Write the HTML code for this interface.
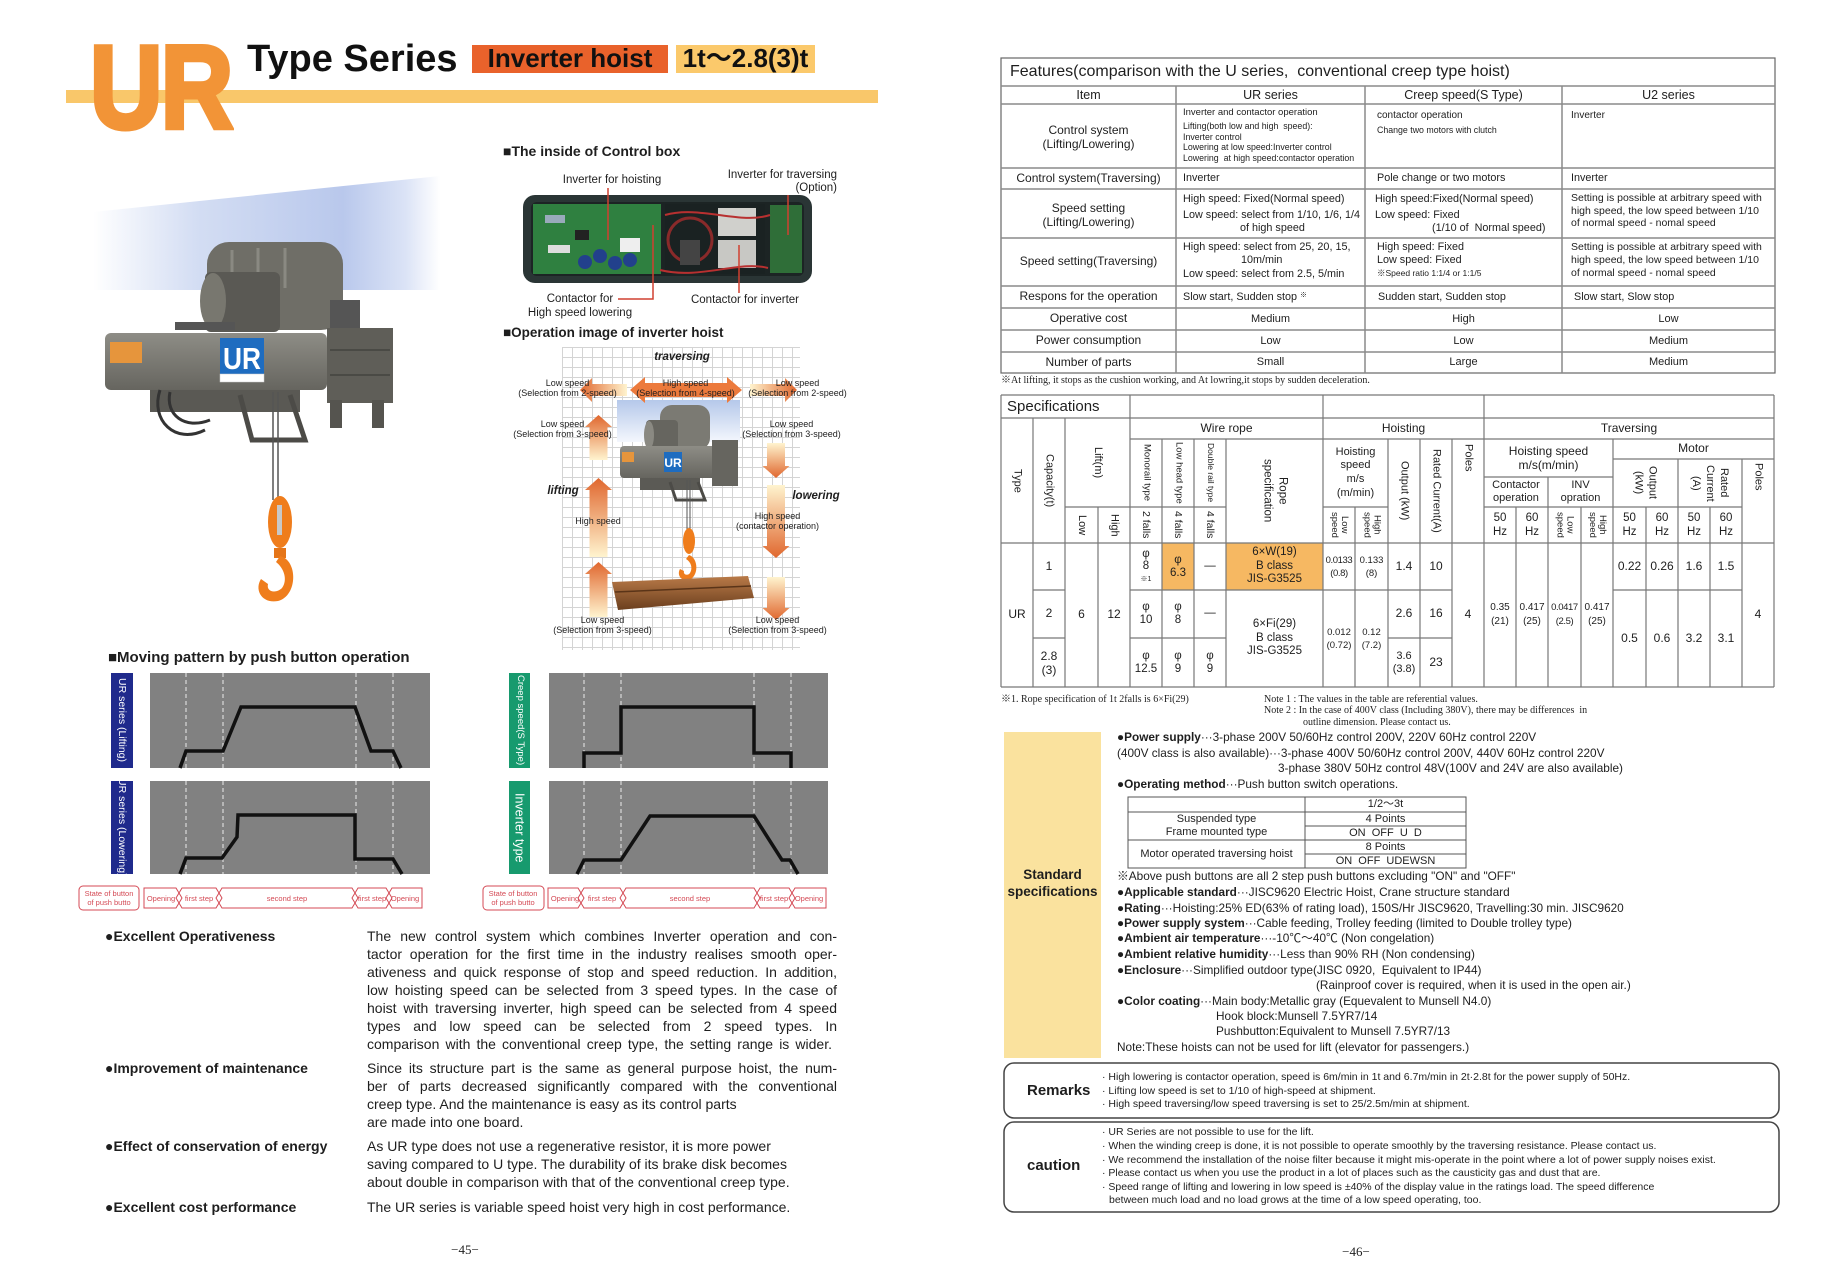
<!DOCTYPE html>
<html><head><meta charset="utf-8">
<style>
*{margin:0;padding:0;box-sizing:border-box}
html,body{width:1831px;height:1280px;overflow:hidden;background:#fff}
body{position:relative;font-family:"Liberation Sans","Noto Sans CJK JP",sans-serif;color:#1e1e1e}
.a{position:absolute;white-space:nowrap;line-height:1}
.c{position:absolute;display:flex;align-items:center;justify-content:center;text-align:center;line-height:1.15;white-space:nowrap}
.v{writing-mode:vertical-rl}
.j{position:absolute;text-align:justify;text-align-last:justify;line-height:1;font-size:14px;width:470px;left:367px}
.l{position:absolute;line-height:1;font-size:14px;left:367px;white-space:nowrap}
.s{font-family:"Liberation Serif","Noto Serif CJK SC",serif}
.h{position:absolute;white-space:nowrap;line-height:1;font-weight:bold;font-size:14px;left:105px}
.sp{font-size:11.8px}
.r{font-size:10.5px}
</style></head><body>
<svg width="1831" height="1280" style="position:absolute;left:0;top:0">
<defs>
<linearGradient id="beam" x1="0" y1="0" x2="1" y2="0"><stop offset="0" stop-color="#fff"/><stop offset="0.3" stop-color="#d3ddf3"/><stop offset="0.72" stop-color="#b9c8ec"/><stop offset="0.9" stop-color="#dbe3f6"/><stop offset="1" stop-color="#fff"/></linearGradient>
<linearGradient id="metal" x1="0" y1="0" x2="0" y2="1"><stop offset="0" stop-color="#8e8d86"/><stop offset="1" stop-color="#66655f"/></linearGradient>
<linearGradient id="up" x1="0" y1="0" x2="0" y2="1"><stop offset="0" stop-color="#e0672e"/><stop offset="1" stop-color="#fff4cf"/></linearGradient>
<linearGradient id="dn" x1="0" y1="0" x2="0" y2="1"><stop offset="0" stop-color="#fff4cf"/><stop offset="1" stop-color="#e0672e"/></linearGradient>
<linearGradient id="lf" x1="0" y1="0" x2="1" y2="0"><stop offset="0" stop-color="#e0672e"/><stop offset="1" stop-color="#fff4cf"/></linearGradient>
<linearGradient id="rt" x1="0" y1="0" x2="1" y2="0"><stop offset="0" stop-color="#fff4cf"/><stop offset="1" stop-color="#e0672e"/></linearGradient>
<linearGradient id="sky" x1="0" y1="0" x2="0" y2="1"><stop offset="0" stop-color="#b5c8ea"/><stop offset="1" stop-color="#f4f7fd"/></linearGradient>
<linearGradient id="brown" x1="0" y1="0" x2="0" y2="1"><stop offset="0" stop-color="#b97a48"/><stop offset="1" stop-color="#6b3f1e"/></linearGradient>
<pattern id="grid" x="562" y="347" width="10" height="10" patternUnits="userSpaceOnUse"><path d="M0 0.5H10M0.5 0V10" stroke="#d4d4d4" stroke-width="1" fill="none"/></pattern>
</defs>

<rect x="66" y="90" width="812" height="13" fill="#F9C76A"/>

<polygon points="93,212 440,176 440,290 93,290" fill="url(#beam)"/>
<rect x="207" y="242" width="136" height="88" rx="22" fill="#6f6e67"/>
<path d="M232 250v35M258 248v40M285 248v40" stroke="#8a8982" stroke-width="3"/>
<rect x="205" y="272" width="75" height="60" rx="6" fill="#5a5954"/>
<ellipse cx="213" cy="301" rx="13" ry="28" fill="#78776f"/>
<rect x="330" y="300" width="30" height="30" fill="#555"/>
<rect x="175" y="322" width="60" height="8" fill="#555"/>
<rect x="105" y="333" width="222" height="57" rx="6" fill="url(#metal)"/>
<rect x="327" y="328" width="66" height="75" fill="#5f5e58"/>
<path d="M330 350H390M330 375H390" stroke="#4a4a45" stroke-width="2"/>
<rect x="330" y="400" width="12" height="28" fill="#55544f"/><rect x="372" y="400" width="12" height="28" fill="#55544f"/>
<rect x="150" y="390" width="150" height="22" fill="#5a5954"/>
<path d="M240 395 L252 440 L305 440 L290 395" stroke="#4c4b47" stroke-width="5" fill="none"/>
<path d="M160 390 C150 420,175 445,205 430 M170 392 C165 415,185 430,210 420" stroke="#333" stroke-width="3" fill="none"/>
<rect x="110" y="342" width="32" height="21" fill="#e6953c"/>
<rect x="220" y="338" width="44" height="36" fill="#1e6cc0"/>
<text x="242" y="369" font-size="31" font-weight="bold" fill="#fff" text-anchor="middle" font-family="Liberation Sans" textLength="38" lengthAdjust="spacingAndGlyphs">UR</text>
<rect x="220" y="374" width="44" height="8" fill="#fff" stroke="#ccc" stroke-width=".5"/>
<path d="M273 392V500M278 392V500" stroke="#555" stroke-width="1.5"/>
<ellipse cx="280" cy="522" rx="12" ry="26" fill="#ef7d1c"/>
<rect x="277" y="505" width="5" height="30" fill="#c8c8c8"/>
<rect x="274" y="548" width="12" height="10" fill="#e57518"/>
<path d="M280 556 C298 560 298 596 278 601 C262 604 254 590 261 579 L268 584 C266 592 276 594 282 588 C288 580 284 568 276 562 Z" fill="#ef7d1c"/>

<rect x="523" y="195" width="289" height="88" rx="12" fill="#2a3535"/>
<rect x="531" y="202" width="273" height="74" rx="6" fill="#1c2424"/>
<rect x="533" y="204" width="128" height="70" fill="#2f8040"/>
<rect x="545" y="215" width="20" height="8" fill="#9ab"/><rect x="575" y="230" width="14" height="10" fill="#222"/><rect x="548" y="245" width="22" height="8" fill="#ddd"/>
<rect x="620" y="238" width="20" height="14" fill="#eee"/>
<circle cx="585" cy="262" r="7" fill="#22408c"/><circle cx="600" cy="256" r="7" fill="#22408c"/><circle cx="615" cy="263" r="7" fill="#22408c"/><circle cx="630" cy="260" r="7" fill="#22408c"/>
<rect x="665" y="204" width="100" height="70" fill="#1a2222"/>
<circle cx="690" cy="240" r="22" fill="none" stroke="#8a2a2a" stroke-width="3"/>
<rect x="680" y="240" width="20" height="25" fill="#444"/>
<rect x="718" y="208" width="38" height="28" fill="#d0d0cc"/><rect x="718" y="240" width="38" height="28" fill="#c8c8c4"/>
<rect x="770" y="205" width="32" height="68" fill="#2f6e38"/>
<path d="M665 215 C700 205,740 225,770 215 M660 270 C700 280,740 260,768 268" stroke="#b83030" stroke-width="2" fill="none"/>
<path d="M608 188V240 M788 195V235 M618 299H653V225 M739 293V245" stroke="#d04030" stroke-width="1.5" fill="none"/>

<rect x="562" y="347" width="238" height="303" fill="url(#grid)"/>
<rect x="617" y="400" width="123" height="42" fill="url(#sky)"/>
<polygon points="630,390 645,377 645,383 727,383 727,377 742,390 727,403 727,397 645,397 645,403" fill="#ec7a3c"/>
<polygon points="580,390 592,378 592,384 627,384 627,396 592,396 592,402" fill="url(#lf)"/>
<polygon points="797,390 785,378 785,384 750,384 750,396 785,396 785,402" fill="url(#rt)"/>
<polygon points="598.5,415 612,427 607.5,427 607.5,460 589.5,460 589.5,427 585,427" fill="url(#up)"/>
<polygon points="598.5,478 612,490 607.5,490 607.5,557 589.5,557 589.5,490 585,490" fill="url(#up)"/>
<polygon points="598.5,562 612,574 607.5,574 607.5,617 589.5,617 589.5,574 585,574" fill="url(#up)"/>
<polygon points="776,478 789.5,466 785,466 785,443 767,443 767,466 762.5,466" fill="url(#dn)"/>
<polygon points="776,558 789.5,546 785,546 785,485 767,485 767,546 762.5,546" fill="url(#dn)"/>
<polygon points="776,620 789.5,608 785,608 785,577 767,577 767,608 762.5,608" fill="url(#dn)"/>
<rect x="660" y="405" width="50" height="45" rx="12" fill="#7b7a73"/>
<rect x="646" y="420" width="32" height="30" rx="4" fill="#66655f"/>
<ellipse cx="649" cy="435" rx="5" ry="14" fill="#8a8982"/>
<rect x="620" y="446" width="110" height="32" rx="4" fill="url(#metal)"/>
<rect x="712" y="440" width="26" height="46" fill="#66655f"/>
<rect x="622" y="452" width="12" height="10" fill="#e6953c"/>
<rect x="664" y="452" width="18" height="20" fill="#1e6cc0"/>
<text x="673" y="467" font-size="12" font-weight="bold" fill="#fff" text-anchor="middle" font-family="Liberation Sans">UR</text>
<rect x="640" y="478" width="60" height="12" fill="#5b5a55"/>
<path d="M670 482 L676 500 L705 500 L698 482" stroke="#4c4b47" stroke-width="3" fill="none"/>
<path d="M687 480V530M690 480V530" stroke="#555" stroke-width="1"/>
<ellipse cx="689" cy="541" rx="6" ry="13" fill="#ef7d1c"/>
<path d="M689 555 C699 558 699 578 688 580 C680 581 677 574 680 569 L684 571 C683 575 688 576 690 573 C693 568 691 562 686 559Z" fill="#ef7d1c"/>
<polygon points="612,582 748,576 754,598 618,610" fill="url(#brown)"/>
<path d="M615 592 L751 586" stroke="#5a3418" stroke-width="1.5"/>

<rect x="150" y="673" width="280" height="95" fill="#818181"/>
<rect x="150" y="781" width="280" height="93" fill="#818181"/>
<rect x="549" y="673" width="279" height="95" fill="#818181"/>
<rect x="549" y="781" width="279" height="93" fill="#818181"/>
<path d="M186 673V768M223 673V768M356 673V768M393 673V768M186 781V874M223 781V874M356 781V874M393 781V874M584 673V768M621 673V768M754 673V768M791 673V768M584 781V874M621 781V874M754 781V874M791 781V874" stroke="#ececec" stroke-width="1" stroke-dasharray="4 3"/>
<g fill="none" stroke="#111" stroke-width="3.5">
<polyline points="180,768 186,751 223,751 241,707 355,707 371,751 393,751 401,768"/>
<polyline points="180,874 186,858 222,858 237,837 238,815 355,815 355,859 393,859 402,874"/>
<polyline points="584,768 584,753 621,753 621,707 754,707 754,753 791,753 791,768"/>
<polyline points="577,874 584,860 621,860 650,816 754,816 782,860 790,860 798,874"/>
</g>
<g fill="none" stroke="#d44a55" stroke-width="1">
<rect x="79" y="886" width="60" height="24" rx="4"/>
<polygon points="144,888 176,888 182,898 176,908 144,908"/>
<polygon points="176,898 182,888 216,888 222,898 216,908 182,908"/>
<polygon points="216,898 222,888 352,888 358,898 352,908 222,908"/>
<polygon points="352,898 358,888 386,888 392,898 386,908 358,908"/>
<polygon points="386,898 392,888 422,888 422,908 392,908"/>
<rect x="483" y="886" width="61" height="24" rx="4"/>
<polygon points="548,888 578,888 584,898 578,908 548,908"/>
<polygon points="578,898 584,888 620,888 626,898 620,908 584,908"/>
<polygon points="620,898 626,888 754,888 760,898 754,908 626,908"/>
<polygon points="754,898 760,888 789,888 795,898 789,908 760,908"/>
<polygon points="789,898 795,888 826,888 826,908 795,908"/>
</g>
<g fill="#d44a55" font-family="Liberation Sans" font-size="7.5" text-anchor="middle">
<text x="109" y="896">State of button</text><text x="109" y="905">of push butto</text>
<text x="161" y="901">Opening</text><text x="199" y="901">first step</text><text x="287" y="901">second step</text><text x="372" y="901">first step</text><text x="405" y="901">Opening</text>
<text x="513" y="896">State of button</text><text x="513" y="905">of push butto</text>
<text x="565" y="901">Opening</text><text x="602" y="901">first step</text><text x="690" y="901">second step</text><text x="774" y="901">first step</text><text x="809" y="901">Opening</text>
</g>

<rect x="1001" y="58" width="774" height="315" fill="none" stroke="#666" stroke-width="1.2"/>
<path d="M1001 86H1775M1001 104H1775M1001 168H1775M1001 189H1775M1001 238H1775M1001 286H1775M1001 308H1775M1001 330H1775M1001 352H1775M1176 86V373M1365 86V373M1562 86V373" stroke="#8a8a8a" stroke-width="1.5" fill="none"/>

<rect x="1162" y="543" width="32" height="47" fill="#F6B862"/>
<rect x="1226" y="543" width="97" height="47" fill="#F6B862"/>
<path d="M1001 395H1774M1001 418H1774M1130 439H1774M1613 459H1774M1484 477H1613M1065 507H1226M1323 507H1388M1484 507H1742M1001 543H1774M1033 590H1065M1130 590H1452M1613 590H1742M1033 638H1065M1130 638H1226M1388 638H1452M1001 687H1774M1001 395V687M1774 395V687M1130 395V687M1323 395V687M1484 395V687M1033 418V687M1065 418V687M1098 507V687M1162 439V687M1194 439V687M1226 439V687M1355 507V687M1388 439V687M1420 439V687M1452 439V687M1516 507V687M1548 477V687M1581 507V687M1613 439V687M1646 507V687M1678 459V687M1710 507V687M1742 459V687" stroke="#777" stroke-width="1.2" fill="none"/>

<rect x="1004" y="732" width="97" height="326" fill="#FAE29E"/>
<rect x="1128" y="797" width="338" height="71" fill="none" stroke="#555" stroke-width="1"/>
<path d="M1305 797V868M1128 812H1466M1305 826H1466M1128 840H1466M1305 854H1466" stroke="#555" stroke-width="1" fill="none"/>

<rect x="1004" y="1063" width="775" height="55" rx="10" fill="none" stroke="#444" stroke-width="1.5"/>
<rect x="1004" y="1122" width="775" height="90" rx="10" fill="none" stroke="#444" stroke-width="1.5"/>
</svg>

<div class="a" style="left:90px;top:29px;font-size:118px;font-weight:bold;color:#F29437;-webkit-text-stroke:5px #F29437;transform:scaleX(0.85);transform-origin:0 0;letter-spacing:-2px">UR</div>
<div class="a" style="left:247px;top:40px;font-size:38px;font-weight:bold;color:#111">Type Series</div>
<div class="c" style="left:472px;top:45px;width:196px;height:28px;background:#E9622B;font-size:26px;font-weight:bold;color:#111">Inverter hoist</div>
<div class="c" style="left:676px;top:45px;width:139px;height:28px;background:#FBC96B;font-size:26px;font-weight:bold;color:#111">1t～2.8(3)t</div>

<div class="a" style="left:503px;top:144px;font-size:14px;font-weight:bold">■The inside of Control box</div>
<div class="c" style="left:552px;top:175px;width:120px;height:12px;font-size:11.5px">Inverter for hoisting</div>
<div class="a" style="left:717px;top:169px;width:120px;font-size:11.5px;text-align:right;line-height:13px">Inverter for traversing<br>(Option)</div>
<div class="c" style="left:520px;top:292px;width:120px;height:28px;font-size:11.5px;line-height:14px">Contactor for<br>High speed lowering</div>
<div class="c" style="left:685px;top:295px;width:120px;height:12px;font-size:11.5px">Contactor for inverter</div>
<div class="a" style="left:503px;top:326px;font-size:13.5px;font-weight:bold">■Operation image of inverter hoist</div>

<div class="c" style="left:655px;top:352px;width:54px;height:12px;font-size:11.5px;font-weight:bold;font-style:italic">traversing</div>
<div class="c" style="left:510px;top:377px;width:115px;height:21px;font-size:9px;line-height:10px">Low speed<br>(Selection from 2-speed)</div>
<div class="c" style="left:628px;top:377px;width:115px;height:21px;font-size:9px;line-height:10px">High speed<br>(Selection from 4-speed)</div>
<div class="c" style="left:740px;top:377px;width:115px;height:21px;font-size:9px;line-height:10px">Low speed<br>(Selection from 2-speed)</div>
<div class="c" style="left:505px;top:418px;width:115px;height:21px;font-size:9px;line-height:10px">Low speed<br>(Selection from 3-speed)</div>
<div class="c" style="left:734px;top:418px;width:115px;height:21px;font-size:9px;line-height:10px">Low speed<br>(Selection from 3-speed)</div>
<div class="c" style="left:540px;top:486px;width:46px;height:12px;font-size:11.5px;font-weight:bold;font-style:italic">lifting</div>
<div class="c" style="left:790px;top:491px;width:52px;height:12px;font-size:11.5px;font-weight:bold;font-style:italic">lowering</div>
<div class="c" style="left:570px;top:516px;width:56px;height:10px;font-size:9px">High speed</div>
<div class="c" style="left:720px;top:510px;width:115px;height:21px;font-size:9px;line-height:10px">High speed<br>(contactor operation)</div>
<div class="c" style="left:545px;top:614px;width:115px;height:21px;font-size:9px;line-height:10px">Low speed<br>(Selection from 3-speed)</div>
<div class="c" style="left:720px;top:614px;width:115px;height:21px;font-size:9px;line-height:10px">Low speed<br>(Selection from 3-speed)</div>

<div class="a" style="left:108px;top:650px;font-size:15px;font-weight:bold">■Moving pattern by push button operation</div>
<div class="c" style="left:111px;top:673px;width:22px;height:95px;background:#1f2a8c;color:#fff;font-size:10.5px"><span class="v">UR series (Lifting)</span></div>
<div class="c" style="left:111px;top:781px;width:22px;height:93px;background:#1f2a8c;color:#fff;font-size:10.5px"><span class="v">UR series (Lowering)</span></div>
<div class="c" style="left:509px;top:673px;width:21px;height:95px;background:#179a6e;color:#fff;font-size:9.5px"><span class="v">Creep speed(S Type)</span></div>
<div class="c" style="left:509px;top:781px;width:21px;height:93px;background:#179a6e;color:#fff;font-size:12.5px"><span class="v">Inverter type</span></div>

<div class="h" style="top:929px">●Excellent Operativeness</div>
<div class="j" style="top:929px">The new control system which combines Inverter operation and con-</div>
<div class="j" style="top:947px">tactor operation for the first time in the industry realises smooth oper-</div>
<div class="j" style="top:965px">ativeness and quick response of stop and speed reduction. In addition,</div>
<div class="j" style="top:983px">low hoisting speed can be selected from 3 speed types. In the case of</div>
<div class="j" style="top:1001px">hoist with traversing inverter, high speed can be selected from 4 speed</div>
<div class="j" style="top:1019px">types and low speed can be selected from 2 speed types. In</div>
<div class="j" style="top:1037px;width:465px">comparison with the conventional creep type, the setting range is wider.</div>
<div class="h" style="top:1061px">●Improvement of maintenance</div>
<div class="j" style="top:1061px">Since its structure part is the same as general purpose hoist, the num-</div>
<div class="j" style="top:1079px">ber of parts decreased significantly compared with the conventional</div>
<div class="l" style="top:1097px">creep type. And the maintenance is easy as its control parts</div>
<div class="l" style="top:1115px">are made into one board.</div>
<div class="h" style="top:1139px">●Effect of conservation of energy</div>
<div class="l" style="top:1139px">As UR type does not use a regenerative resistor, it is more power</div>
<div class="l" style="top:1157px">saving compared to U type. The durability of its brake disk becomes</div>
<div class="l" style="top:1175px">about double in comparison with that of the conventional creep type.</div>
<div class="h" style="top:1200px">●Excellent cost performance</div>
<div class="l" style="top:1200px">The UR series is variable speed hoist very high in cost performance.</div>
<div class="c s" style="left:415px;top:1243px;width:100px;height:14px;font-size:13px">−45−</div>

<div class="a" style="left:1010px;top:64px;font-size:16px">Features(comparison with the U series,&nbsp; conventional creep type hoist)</div>
<div class="c" style="left:1001px;top:86px;width:175px;height:18px;font-size:12.5px">Item</div>
<div class="c" style="left:1176px;top:86px;width:189px;height:18px;font-size:12.5px">UR series</div>
<div class="c" style="left:1365px;top:86px;width:197px;height:18px;font-size:12.5px">Creep speed(S Type)</div>
<div class="c" style="left:1562px;top:86px;width:213px;height:18px;font-size:12.5px">U2 series</div>
<div class="c" style="left:1001px;top:104px;width:175px;height:66px;font-size:12px;line-height:14px">Control system<br>(Lifting/Lowering)</div>
<div class="c" style="left:1001px;top:168px;width:175px;height:21px;font-size:12px">Control system(Traversing)</div>
<div class="c" style="left:1001px;top:189px;width:175px;height:52px;font-size:12px;line-height:14px">Speed setting<br>(Lifting/Lowering)</div>
<div class="c" style="left:1001px;top:238px;width:175px;height:48px;font-size:12px">Speed setting(Traversing)</div>
<div class="c" style="left:1001px;top:286px;width:175px;height:22px;font-size:12px">Respons for the operation</div>
<div class="c" style="left:1001px;top:308px;width:175px;height:22px;font-size:12px">Operative cost</div>
<div class="c" style="left:1001px;top:330px;width:175px;height:22px;font-size:12px">Power consumption</div>
<div class="c" style="left:1001px;top:352px;width:175px;height:21px;font-size:12px">Number of parts</div>

<div class="a" style="left:1183px;top:108px;font-size:9.5px">Inverter and contactor operation</div>
<div class="a" style="left:1183px;top:121.6px;font-size:8.8px">Lifting(both low and high&nbsp; speed):</div>
<div class="a" style="left:1183px;top:132.6px;font-size:8.8px">Inverter control</div>
<div class="a" style="left:1183px;top:142.6px;font-size:8.8px">Lowering at low speed:Inverter control</div>
<div class="a" style="left:1183px;top:153.6px;font-size:8.8px">Lowering&nbsp; at high speed:contactor operation</div>
<div class="a" style="left:1183px;top:172.6px;font-size:10.8px">Inverter</div>
<div class="a" style="left:1183px;top:193.6px;font-size:10.8px">High speed: Fixed(Normal speed)</div>
<div class="a" style="left:1183px;top:209.6px;font-size:10.8px">Low speed: select from 1/10, 1/6, 1/4</div>
<div class="a" style="left:1240px;top:222.6px;font-size:10.8px">of high speed</div>
<div class="a" style="left:1183px;top:241.6px;font-size:10.8px">High speed: select from 25, 20, 15,</div>
<div class="a" style="left:1241px;top:254.6px;font-size:10.8px">10m/min</div>
<div class="a" style="left:1183px;top:268.6px;font-size:10.8px">Low speed: select from 2.5, 5/min</div>
<div class="a" style="left:1183px;top:291.6px;font-size:10.8px">Slow start, Sudden stop <span style="font-size:7px;vertical-align:top">※</span></div>
<div class="c" style="left:1176px;top:308px;width:189px;height:22px;font-size:11px">Medium</div>
<div class="c" style="left:1176px;top:330px;width:189px;height:22px;font-size:11px">Low</div>
<div class="c" style="left:1176px;top:352px;width:189px;height:21px;font-size:11px">Small</div>

<div class="a" style="left:1377px;top:111px;font-size:10px">contactor operation</div>
<div class="a" style="left:1377px;top:125.6px;font-size:8.8px">Change two motors with clutch</div>
<div class="a" style="left:1377px;top:172.6px;font-size:10.8px">Pole change or two motors</div>
<div class="a" style="left:1375px;top:193.6px;font-size:10.8px">High speed:Fixed(Normal speed)</div>
<div class="a" style="left:1375px;top:209.6px;font-size:10.8px">Low speed: Fixed</div>
<div class="a" style="left:1432px;top:222.6px;font-size:10.8px">(1/10 of&nbsp; Normal speed)</div>
<div class="a" style="left:1377px;top:241.6px;font-size:10.8px">High speed: Fixed</div>
<div class="a" style="left:1377px;top:254.6px;font-size:10.8px">Low speed: Fixed</div>
<div class="a" style="left:1377px;top:268.8px;font-size:8.5px">※Speed ratio 1:1/4 or 1:1/5</div>
<div class="a" style="left:1378px;top:291.6px;font-size:10.8px">Sudden start, Sudden stop</div>
<div class="c" style="left:1365px;top:308px;width:197px;height:22px;font-size:11px">High</div>
<div class="c" style="left:1365px;top:330px;width:197px;height:22px;font-size:11px">Low</div>
<div class="c" style="left:1365px;top:352px;width:197px;height:21px;font-size:11px">Large</div>

<div class="a" style="left:1571px;top:111px;font-size:10px">Inverter</div>
<div class="a" style="left:1571px;top:172.6px;font-size:10.8px">Inverter</div>
<div class="a" style="left:1571px;top:192.8px;font-size:10.5px">Setting is possible at arbitrary speed with</div>
<div class="a" style="left:1571px;top:205.8px;font-size:10.5px">high speed, the low speed between 1/10</div>
<div class="a" style="left:1571px;top:217.8px;font-size:10.5px">of normal speed - nomal speed</div>
<div class="a" style="left:1571px;top:241.8px;font-size:10.5px">Setting is possible at arbitrary speed with</div>
<div class="a" style="left:1571px;top:254.8px;font-size:10.5px">high speed, the low speed between 1/10</div>
<div class="a" style="left:1571px;top:267.8px;font-size:10.5px">of normal speed - nomal speed</div>
<div class="a" style="left:1574px;top:291.6px;font-size:10.8px">Slow start, Slow stop</div>
<div class="c" style="left:1562px;top:308px;width:213px;height:22px;font-size:11px">Low</div>
<div class="c" style="left:1562px;top:330px;width:213px;height:22px;font-size:11px">Medium</div>
<div class="c" style="left:1562px;top:352px;width:213px;height:21px;font-size:11px">Medium</div>
<div class="a s" style="left:1001px;top:376px;font-size:10px">※At lifting, it stops as the cushion working, and At lowring,it stops by sudden deceleration.</div>

<div class="a" style="left:1007px;top:399px;font-size:15px">Specifications</div>
<div class="c" style="left:1130px;top:418px;width:193px;height:21px;font-size:12px">Wire rope</div>
<div class="c" style="left:1323px;top:418px;width:161px;height:21px;font-size:12px">Hoisting</div>
<div class="c" style="left:1484px;top:418px;width:290px;height:21px;font-size:12px">Traversing</div>
<div class="c" style="left:1001px;top:418px;width:32px;height:125px;font-size:11px"><span class="v">Type</span></div>
<div class="c" style="left:1033px;top:418px;width:32px;height:125px;font-size:11px"><span class="v">Capacity(t)</span></div>
<div class="c" style="left:1065px;top:418px;width:65px;height:89px;font-size:11px"><span class="v">Lift(m)</span></div>
<div class="c" style="left:1065px;top:507px;width:33px;height:36px;font-size:11px"><span class="v">Low</span></div>
<div class="c" style="left:1098px;top:507px;width:32px;height:36px;font-size:11px"><span class="v">High</span></div>
<div class="c" style="left:1130px;top:439px;width:32px;height:68px;font-size:9.5px"><span class="v">Monorail type</span></div>
<div class="c" style="left:1162px;top:439px;width:32px;height:68px;font-size:9.5px"><span class="v">Low head type</span></div>
<div class="c" style="left:1194px;top:439px;width:32px;height:68px;font-size:8.5px"><span class="v">Double rail type</span></div>
<div class="c" style="left:1130px;top:507px;width:32px;height:36px;font-size:10.5px"><span class="v">2 falls</span></div>
<div class="c" style="left:1162px;top:507px;width:32px;height:36px;font-size:10.5px"><span class="v">4 falls</span></div>
<div class="c" style="left:1194px;top:507px;width:32px;height:36px;font-size:10.5px"><span class="v">4 falls</span></div>
<div class="c" style="left:1226px;top:439px;width:97px;height:104px;font-size:11.5px;line-height:15px"><span class="v">Rope<br>specification</span></div>
<div class="c" style="left:1323px;top:439px;width:65px;height:68px;font-size:11px;line-height:13.7px">Hoisting<br>speed<br>m/s<br>(m/min)</div>
<div class="c" style="left:1323px;top:507px;width:32px;height:36px;font-size:9.5px;line-height:10px"><span class="v">Low<br>speed</span></div>
<div class="c" style="left:1355px;top:507px;width:33px;height:36px;font-size:9.5px;line-height:10px"><span class="v">High<br>speed</span></div>
<div class="c" style="left:1388px;top:439px;width:32px;height:104px;font-size:11px"><span class="v">Output (kW)</span></div>
<div class="c" style="left:1420px;top:439px;width:32px;height:104px;font-size:11px"><span class="v">Rated Current(A)</span></div>
<div class="c" style="left:1452px;top:444px;width:32px;height:99px;font-size:11px;align-items:flex-start"><span class="v">Poles</span></div>
<div class="c" style="left:1484px;top:439px;width:129px;height:38px;font-size:12px;line-height:14px">Hoisting speed<br>m/s(m/min)</div>
<div class="c" style="left:1484px;top:477px;width:64px;height:30px;font-size:11px;line-height:13px">Contactor<br>operation</div>
<div class="c" style="left:1548px;top:477px;width:65px;height:30px;font-size:11px;line-height:13px">INV<br>opration</div>
<div class="c" style="left:1484px;top:507px;width:32px;height:36px;font-size:11.5px;line-height:14px">50<br>Hz</div>
<div class="c" style="left:1516px;top:507px;width:32px;height:36px;font-size:11.5px;line-height:14px">60<br>Hz</div>
<div class="c" style="left:1548px;top:507px;width:33px;height:36px;font-size:9.5px;line-height:10px"><span class="v">Low<br>speed</span></div>
<div class="c" style="left:1581px;top:507px;width:32px;height:36px;font-size:9.5px;line-height:10px"><span class="v">High<br>speed</span></div>
<div class="c" style="left:1613px;top:439px;width:161px;height:20px;font-size:12px">Motor</div>
<div class="c" style="left:1613px;top:459px;width:65px;height:48px;font-size:11px;line-height:14px"><span class="v">Output<br>(kW)</span></div>
<div class="c" style="left:1678px;top:459px;width:64px;height:48px;font-size:11px;line-height:14px"><span class="v">Rated<br>Current<br>(A)</span></div>
<div class="c" style="left:1742px;top:463px;width:32px;height:80px;font-size:11px;align-items:flex-start"><span class="v">Poles</span></div>
<div class="c" style="left:1613px;top:507px;width:33px;height:36px;font-size:11.5px;line-height:14px">50<br>Hz</div>
<div class="c" style="left:1646px;top:507px;width:32px;height:36px;font-size:11.5px;line-height:14px">60<br>Hz</div>
<div class="c" style="left:1678px;top:507px;width:32px;height:36px;font-size:11.5px;line-height:14px">50<br>Hz</div>
<div class="c" style="left:1710px;top:507px;width:32px;height:36px;font-size:11.5px;line-height:14px">60<br>Hz</div>

<div class="c" style="left:1001px;top:543px;width:32px;height:144px;font-size:12px">UR</div>
<div class="c" style="left:1033px;top:543px;width:32px;height:47px;font-size:12px">1</div>
<div class="c" style="left:1033px;top:590px;width:32px;height:48px;font-size:12px">2</div>
<div class="c" style="left:1033px;top:638px;width:32px;height:49px;font-size:12px;line-height:14px">2.8<br>(3)</div>
<div class="c" style="left:1065px;top:543px;width:33px;height:144px;font-size:12px">6</div>
<div class="c" style="left:1098px;top:543px;width:32px;height:144px;font-size:12px">12</div>
<div class="c" style="left:1130px;top:543px;width:32px;height:47px;font-size:11.5px;line-height:12px"><div>φ<br>8<br><span style="font-size:7px">※1</span></div></div>
<div class="c" style="left:1130px;top:590px;width:32px;height:48px;font-size:11.5px;line-height:13px">φ<br>10</div>
<div class="c" style="left:1130px;top:638px;width:32px;height:49px;font-size:11.5px;line-height:13px">φ<br>12.5</div>
<div class="c" style="left:1162px;top:543px;width:32px;height:47px;font-size:11.5px;line-height:13px">φ<br>6.3</div>
<div class="c" style="left:1162px;top:590px;width:32px;height:48px;font-size:11.5px;line-height:13px">φ<br>8</div>
<div class="c" style="left:1162px;top:638px;width:32px;height:49px;font-size:11.5px;line-height:13px">φ<br>9</div>
<div class="c" style="left:1194px;top:543px;width:32px;height:47px;font-size:11.5px">—</div>
<div class="c" style="left:1194px;top:590px;width:32px;height:48px;font-size:11.5px">—</div>
<div class="c" style="left:1194px;top:638px;width:32px;height:49px;font-size:11.5px;line-height:13px">φ<br>9</div>
<div class="c" style="left:1226px;top:543px;width:97px;height:47px;font-size:11.5px;line-height:13.5px">6×W(19)<br>B class<br>JIS-G3525</div>
<div class="c" style="left:1226px;top:590px;width:97px;height:97px;font-size:11.5px;line-height:13.5px">6×Fi(29)<br>B class<br>JIS-G3525</div>
<div class="c" style="left:1323px;top:543px;width:32px;height:47px;font-size:9.5px;line-height:13px;letter-spacing:-0.4px">0.0133<br>(0.8)</div>
<div class="c" style="left:1355px;top:543px;width:33px;height:47px;font-size:9.5px;line-height:13px">0.133<br>(8)</div>
<div class="c" style="left:1323px;top:590px;width:32px;height:97px;font-size:9.5px;line-height:13px">0.012<br>(0.72)</div>
<div class="c" style="left:1355px;top:590px;width:33px;height:97px;font-size:9.5px;line-height:13px">0.12<br>(7.2)</div>
<div class="c" style="left:1388px;top:543px;width:32px;height:47px;font-size:12px">1.4</div>
<div class="c" style="left:1388px;top:590px;width:32px;height:48px;font-size:12px">2.6</div>
<div class="c" style="left:1388px;top:638px;width:32px;height:49px;font-size:11px;line-height:13px">3.6<br>(3.8)</div>
<div class="c" style="left:1420px;top:543px;width:32px;height:47px;font-size:12px">10</div>
<div class="c" style="left:1420px;top:590px;width:32px;height:48px;font-size:12px">16</div>
<div class="c" style="left:1420px;top:638px;width:32px;height:49px;font-size:12px">23</div>
<div class="c" style="left:1452px;top:543px;width:32px;height:144px;font-size:12px">4</div>
<div class="c" style="left:1484px;top:543px;width:32px;height:144px;font-size:10px;line-height:14px">0.35<br>(21)</div>
<div class="c" style="left:1516px;top:543px;width:32px;height:144px;font-size:10px;line-height:14px">0.417<br>(25)</div>
<div class="c" style="left:1548px;top:543px;width:33px;height:144px;font-size:9.5px;line-height:14px;letter-spacing:-0.4px">0.0417<br>(2.5)</div>
<div class="c" style="left:1581px;top:543px;width:32px;height:144px;font-size:10px;line-height:14px">0.417<br>(25)</div>
<div class="c" style="left:1613px;top:543px;width:33px;height:47px;font-size:12px">0.22</div>
<div class="c" style="left:1646px;top:543px;width:32px;height:47px;font-size:12px">0.26</div>
<div class="c" style="left:1678px;top:543px;width:32px;height:47px;font-size:12px">1.6</div>
<div class="c" style="left:1710px;top:543px;width:32px;height:47px;font-size:12px">1.5</div>
<div class="c" style="left:1613px;top:590px;width:33px;height:97px;font-size:12px">0.5</div>
<div class="c" style="left:1646px;top:590px;width:32px;height:97px;font-size:12px">0.6</div>
<div class="c" style="left:1678px;top:590px;width:32px;height:97px;font-size:12px">3.2</div>
<div class="c" style="left:1710px;top:590px;width:32px;height:97px;font-size:12px">3.1</div>
<div class="c" style="left:1742px;top:543px;width:32px;height:144px;font-size:12px">4</div>

<div class="a s" style="left:1001px;top:695px;font-size:10px">※1. Rope specification of 1t 2falls is 6×Fi(29)</div>
<div class="a s" style="left:1264px;top:695px;font-size:10px">Note 1 : The values in the table are referential values.</div>
<div class="a s" style="left:1264px;top:706px;font-size:10px">Note 2 : In the case of 400V class (Including 380V), there may be differences&nbsp; in</div>
<div class="a s" style="left:1303px;top:718px;font-size:10px">outline dimension. Please contact us.</div>

<div class="c" style="left:1004px;top:866px;width:97px;height:34px;font-size:13.5px;font-weight:bold;line-height:17px">Standard<br>specifications</div>
<div class="a sp" style="left:1117px;top:732px"><b>●Power supply</b>···3-phase 200V 50/60Hz control 200V, 220V 60Hz control 220V</div>
<div class="a sp" style="left:1117px;top:748px">(400V class is also available)···3-phase 400V 50/60Hz control 200V, 440V 60Hz control 220V</div>
<div class="a sp" style="left:1278px;top:763px">3-phase 380V 50Hz control 48V(100V and 24V are also available)</div>
<div class="a sp" style="left:1117px;top:779px"><b>●Operating method</b>···Push button switch operations.</div>
<div class="c" style="left:1305px;top:797px;width:161px;height:15px;font-size:11px">1/2～3t</div>
<div class="c" style="left:1305px;top:812px;width:161px;height:14px;font-size:11px">4 Points</div>
<div class="c" style="left:1305px;top:826px;width:161px;height:14px;font-size:11px;white-space:pre">ON  OFF  U  D</div>
<div class="c" style="left:1305px;top:840px;width:161px;height:14px;font-size:11px">8 Points</div>
<div class="c" style="left:1305px;top:854px;width:161px;height:14px;font-size:11px;white-space:pre">ON  OFF  UDEWSN</div>
<div class="c" style="left:1128px;top:812px;width:177px;height:28px;font-size:11px;line-height:13px">Suspended type<br>Frame mounted type</div>
<div class="c" style="left:1128px;top:840px;width:177px;height:28px;font-size:11px">Motor operated traversing hoist</div>
<div class="a sp" style="left:1117px;top:871px">※Above push buttons are all 2 step push buttons excluding "ON" and "OFF"</div>
<div class="a sp" style="left:1117px;top:887px"><b>●Applicable standard</b>···JISC9620 Electric Hoist, Crane structure standard</div>
<div class="a sp" style="left:1117px;top:903px"><b>●Rating</b>···Hoisting:25% ED(63% of rating load), 150S/Hr JISC9620, Travelling:30 min. JISC9620</div>
<div class="a sp" style="left:1117px;top:918px"><b>●Power supply system</b>···Cable feeding, Trolley feeding (limited to Double trolley type)</div>
<div class="a sp" style="left:1117px;top:933px"><b>●Ambient air temperature</b>···-10℃～40℃ (Non congelation)</div>
<div class="a sp" style="left:1117px;top:949px"><b>●Ambient relative humidity</b>···Less than 90% RH (Non condensing)</div>
<div class="a sp" style="left:1117px;top:965px"><b>●Enclosure</b>···Simplified outdoor type(JISC 0920,&nbsp; Equivalent to IP44)</div>
<div class="a sp" style="left:1316px;top:980px">(Rainproof cover is required, when it is used in the open air.)</div>
<div class="a sp" style="left:1117px;top:996px"><b>●Color coating</b>···Main body:Metallic gray (Equevalent to Munsell N4.0)</div>
<div class="a sp" style="left:1216px;top:1011px">Hook block:Munsell 7.5YR7/14</div>
<div class="a sp" style="left:1216px;top:1026px">Pushbutton:Equivalent to Munsell 7.5YR7/13</div>
<div class="a sp" style="left:1117px;top:1042px">Note:These hoists can not be used for lift (elevator for passengers.)</div>

<div class="a" style="left:1027px;top:1083px;font-size:15px;font-weight:bold">Remarks</div>
<div class="a r" style="left:1102px;top:1072px">· High lowering is contactor operation, speed is 6m/min in 1t and 6.7m/min in 2t·2.8t for the power supply of 50Hz.</div>
<div class="a r" style="left:1102px;top:1086px">· Lifting low speed is set to 1/10 of high-speed at shipment.</div>
<div class="a r" style="left:1102px;top:1099px">· High speed traversing/low speed traversing is set to 25/2.5m/min at shipment.</div>
<div class="a" style="left:1027px;top:1158px;font-size:15px;font-weight:bold">caution</div>
<div class="a r" style="left:1102px;top:1127px">· UR Series are not possible to use for the lift.</div>
<div class="a r" style="left:1102px;top:1141px">· When the winding creep is done, it is not possible to operate smoothly by the traversing resistance. Please contact us.</div>
<div class="a r" style="left:1102px;top:1155px">· We recommend the installation of the noise filter because it might mis-operate in the point where a lot of power supply noises exist.</div>
<div class="a r" style="left:1102px;top:1168px">· Please contact us when you use the product in a lot of places such as the causticity gas and dust that are.</div>
<div class="a r" style="left:1102px;top:1182px">· Speed range of lifting and lowering in low speed is ±40% of the display value in the ratings load. The speed difference</div>
<div class="a r" style="left:1109px;top:1195px">between much load and no load grows at the time of a low speed operating, too.</div>
<div class="c s" style="left:1306px;top:1245px;width:100px;height:14px;font-size:13px">−46−</div>
</body></html>
